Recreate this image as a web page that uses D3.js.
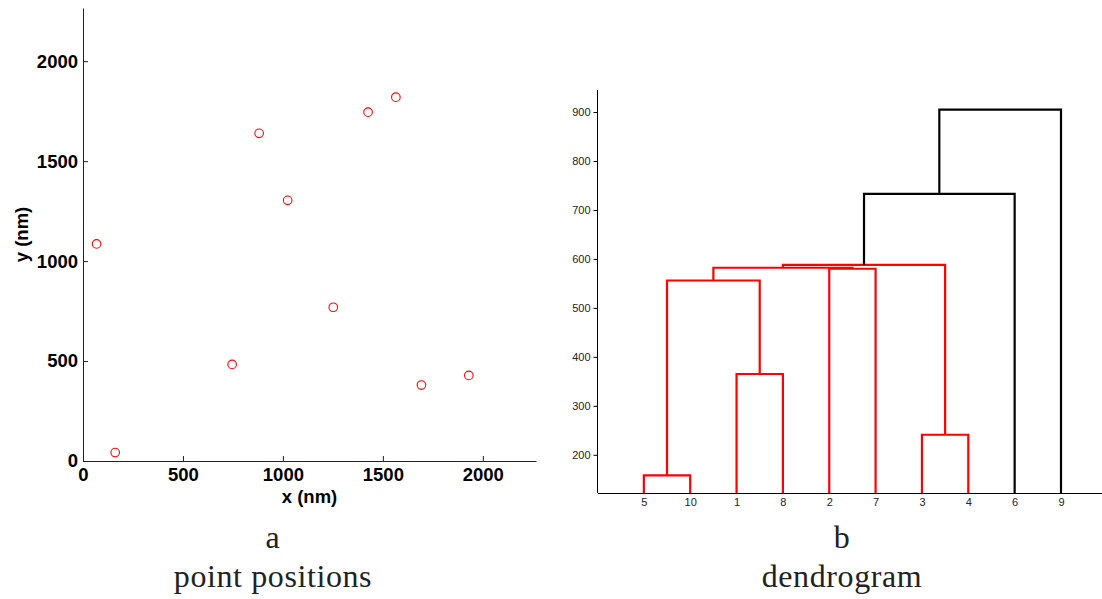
<!DOCTYPE html>
<html>
<head>
<meta charset="utf-8">
<script src="https://cdn.jsdelivr.net/npm/d3@7"></script>
<style>
  html, body { margin: 0; padding: 0; background: #fff; }
  svg { display: block; }
  .tickA text { font-family: "Liberation Sans", Arial, sans-serif; font-weight: bold; font-size: 18.5px; fill: #000; }
  .tickB text { font-family: "Liberation Sans", Arial, sans-serif; font-size: 11px; fill: #222; }
  .axisLabel { font-family: "Liberation Sans", Arial, sans-serif; font-weight: bold; font-size: 18.5px; fill: #000; text-anchor: middle; }
  .caption { font-family: "Liberation Serif", "Times New Roman", serif; font-size: 32px; letter-spacing: 0.6px; fill: #222; text-anchor: middle; }
</style>
</head>
<body>
<svg id="fig" width="1102" height="599"></svg>
<script>
// ---- Panel a: point positions (nm) ----
const pointId = [1, 2, 3, 4, 5, 6, 7, 8, 9, 10];
const pointX = [881, 746, 1693, 1930, 1426, 68, 1252, 1024, 161, 1565];
const pointY = [1639, 483, 380, 428, 1745, 1086, 769, 1304, 42, 1820];
const posTicks = [0, 500, 1000, 1500, 2000];
const posMax = 2266;

// ---- Panel b: dendrogram (linkage rows: left node, right node, height) ----
const leafOrder = [5, 10, 1, 8, 2, 7, 3, 4, 6, 9];
const linkLeft = [5, 3, 1, 11, 2, 14, 16, 17, 18];
const linkRight = [10, 4, 8, 13, 7, 15, 12, 6, 9];
const linkHeight = [158, 241, 365, 556, 580, 582, 588, 733, 905];
const heightTicks = [200, 300, 400, 500, 600, 700, 800, 900];
const heightDomain = [122, 945];
const colorCut = 0.7 * d3.max(linkHeight);

const svg = d3.select("#fig");
svg.append("rect").attr("width", 1102).attr("height", 599).attr("fill", "#fff");

// ---------- scatter ----------
const xA = d3.scaleLinear().domain([0, posMax]).range([83, 536]);
const yA = d3.scaleLinear().domain([0, posMax]).range([461, 8]);

const gxA = svg.append("g").attr("class", "tickA").attr("transform", "translate(0,461)")
  .call(d3.axisBottom(xA).tickValues(posTicks).tickFormat(d3.format("d")).tickSize(-5).tickSizeOuter(0).tickPadding(7));
const gyA = svg.append("g").attr("class", "tickA").attr("transform", "translate(83,0)")
  .call(d3.axisLeft(yA).tickValues(posTicks).tickFormat(d3.format("d")).tickSize(-5).tickSizeOuter(0).tickPadding(5));
[gxA, gyA].forEach(g => {
  g.selectAll("path, line").attr("stroke", "#222").attr("stroke-width", 1);
});

const midX = (xA.range()[0] + xA.range()[1]) / 2;
const midY = (yA.range()[0] + yA.range()[1]) / 2;
svg.append("text").attr("class", "axisLabel").attr("x", midX).attr("y", 503).text("x (nm)");
svg.append("text").attr("class", "axisLabel").attr("transform", `translate(28,${midY}) rotate(-90)`).text("y (nm)");

svg.append("g").selectAll("circle").data(pointId).join("circle")
  .attr("cx", (d, i) => xA(pointX[i]))
  .attr("cy", (d, i) => yA(pointY[i]))
  .attr("r", 4.3)
  .attr("fill", "none")
  .attr("stroke", "#ff0000")
  .attr("stroke-width", 1.1);

// ---------- dendrogram ----------
const xB = d3.scaleLinear().domain([0, 11]).range([597.5, 597.5 + 11 * 46.35]);
const yB = d3.scaleLinear().domain(heightDomain).range([493, 90]);

const gyB = svg.append("g").attr("class", "tickB").attr("transform", "translate(597.5,0)")
  .call(d3.axisLeft(yB).tickValues(heightTicks).tickSize(4).tickSizeOuter(0).tickPadding(3));
gyB.select(".domain").attr("d", `M0,${yB(heightDomain[0])}V${yB(heightDomain[1])}`);
const gxB = svg.append("g").attr("class", "tickB").attr("transform", "translate(0,493)")
  .call(d3.axisBottom(xB).tickValues(d3.range(1, 11)).tickFormat((d) => leafOrder[d - 1]).tickSize(0).tickSizeOuter(0).tickPadding(5));
[gxB, gyB].forEach(g => {
  g.selectAll("path, line").attr("stroke", "#000").attr("stroke-width", 1);
});

// node positions: leaves sit at their order slot, clusters at the midpoint of their children
const nLeaves = leafOrder.length;
const nodeX = {}, nodeH = {};
leafOrder.forEach((leaf, i) => { nodeX[leaf] = i + 1; nodeH[leaf] = heightDomain[0]; });
linkHeight.forEach((h, i) => {
  const id = nLeaves + 1 + i;
  nodeX[id] = (nodeX[linkLeft[i]] + nodeX[linkRight[i]]) / 2;
  nodeH[id] = h;
});

const links = linkHeight.map((h, i) => ({ a: linkLeft[i], b: linkRight[i], h }));
svg.append("g").selectAll("path").data(links).join("path")
  .attr("d", d => {
    const xa = xB(nodeX[d.a]), xb = xB(nodeX[d.b]);
    return `M${xa},${yB(nodeH[d.a])}V${yB(d.h)}H${xb}V${yB(nodeH[d.b])}`;
  })
  .attr("fill", "none")
  .attr("stroke", d => d.h < colorCut ? "#ff0000" : "#000")
  .attr("stroke-width", 2.2);

// ---------- captions ----------
svg.append("text").attr("class", "caption").attr("x", 273).attr("y", 548).text("a");
svg.append("text").attr("class", "caption").attr("x", 273).attr("y", 587).text("point positions");
svg.append("text").attr("class", "caption").attr("x", 842).attr("y", 548).text("b");
svg.append("text").attr("class", "caption").attr("x", 842).attr("y", 587).text("dendrogram");
</script>
</body>
</html>
